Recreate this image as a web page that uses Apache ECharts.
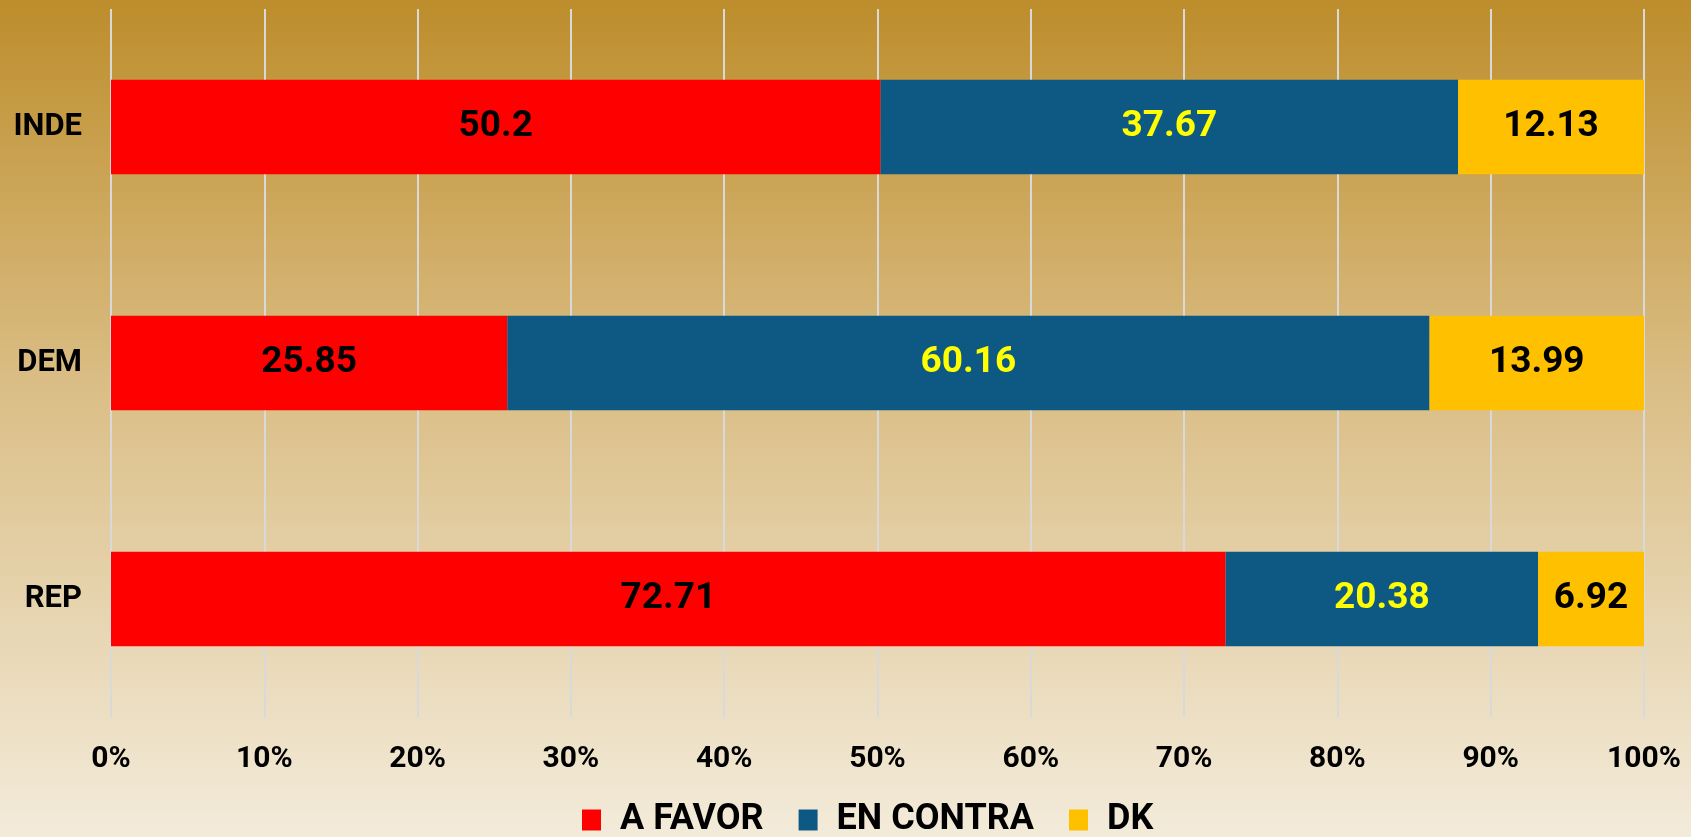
<!DOCTYPE html>
<html>
<head>
<meta charset="utf-8">
<script src="https://cdn.jsdelivr.net/npm/echarts@6/dist/echarts.min.js"></script>
<style>
  html, body { margin: 0; padding: 0; }
  #chart { width: 1691px; height: 837px; }
</style>
</head>
<body>
<div id="chart"></div>
<script>
var categories = ['REP', 'DEM', 'INDE'];
var aFavor = [72.71, 25.85, 50.2];
var enContra = [20.38, 60.16, 37.67];
var dk = [6.92, 13.99, 12.13];
var xTicks = [0, 10, 20, 30, 40, 50, 60, 70, 80, 90, 100];

var myChart = echarts.init(document.getElementById('chart'));
var font = 'Roboto';

function barSeries(name, data, color, labelColor) {
    return {
        name: name,
        type: 'bar',
        stack: 'total',
        barWidth: '40%',
        data: data,
        itemStyle: { color: color },
        label: {
            show: true,
            position: 'inside',
            color: labelColor,
            fontFamily: font,
            fontWeight: 'bold',
            fontSize: 37
        }
    };
}

var option = {
    backgroundColor: new echarts.graphic.LinearGradient(0, 0, 0, 1, [
        { offset: 0, color: '#BD8D2B' },
        { offset: 0.45, color: '#DABD84' },
        { offset: 1, color: '#F3EBDA' }
    ]),
    textStyle: { fontFamily: font },
    grid: { left: 111, right: 47, top: 9, bottom: 120 },
    legend: {
        left: 577,
        top: 797,
        itemWidth: 19,
        itemHeight: 21,
        itemGap: 35,
        icon: 'rect',
        textStyle: {
            fontFamily: font,
            fontWeight: 'bold',
            fontSize: 36,
            color: '#000',
            padding: [0, 0, 0, 14]
        },
        data: ['A FAVOR', 'EN CONTRA', 'DK']
    },
    xAxis: {
        type: 'value',
        min: 0,
        max: 100,
        interval: 10,
        axisLine: { show: false },
        axisTick: { show: false },
        splitLine: { lineStyle: { color: '#D9D9D9', width: 2 } },
        axisLabel: {
            margin: 27,
            color: '#000',
            fontWeight: 'bold',
            fontSize: 30,
            formatter: function (v) { return xTicks.indexOf(v) >= 0 ? v + '%' : ''; }
        }
    },
    yAxis: {
        type: 'category',
        data: categories,
        axisLine: { show: false },
        axisTick: { show: false },
        axisLabel: {
            margin: 29,
            color: '#000',
            fontWeight: 'bold',
            fontSize: 31
        }
    },
    series: [
        barSeries('A FAVOR', aFavor, '#FF0000', '#000'),
        barSeries('EN CONTRA', enContra, '#0E5984', '#FFFF00'),
        barSeries('DK', dk, '#FFC000', '#000')
    ]
};

myChart.setOption(option);
</script>
</body>
</html>
